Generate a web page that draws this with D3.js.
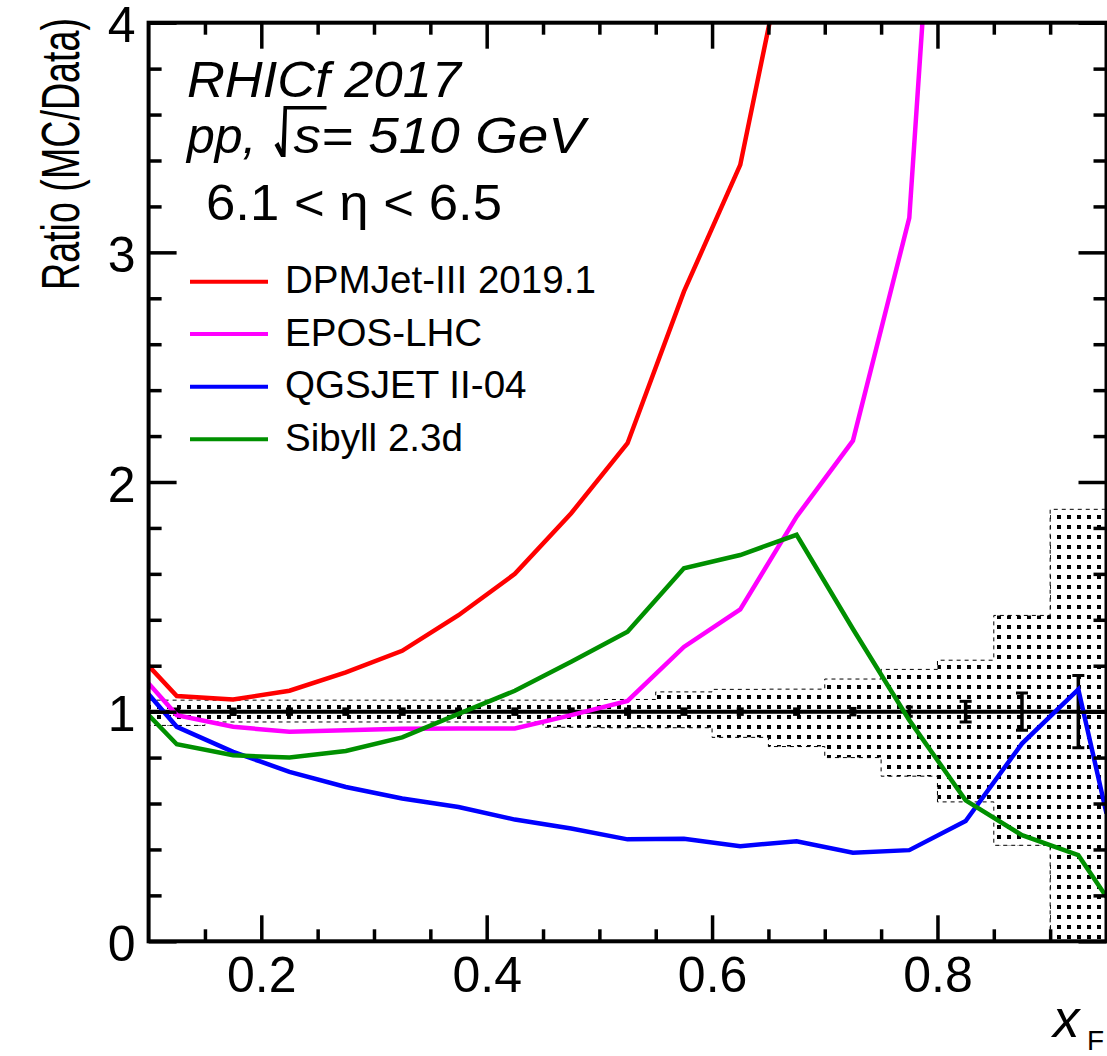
<!DOCTYPE html>
<html>
<head>
<meta charset="utf-8">
<script src="https://cdn.jsdelivr.net/npm/d3@7"></script>
<style>
  body { margin: 0; background: #fff; }
  svg { display: block; }
  text { font-family: "Liberation Sans", Arial, Helvetica, sans-serif; fill: #000; }
</style>
</head>
<body>
<div id="chart"></div>
<script>
// x_F points where the model ratios are drawn (edges 0.1 / 0.95 plus bin centres)
const xfPoints = [0.1, 0.125, 0.175, 0.225, 0.275, 0.325, 0.375, 0.425, 0.475, 0.525,
                  0.575, 0.625, 0.675, 0.725, 0.775, 0.825, 0.875, 0.925, 0.95];

// MC / Data ratios (red and magenta leave the frame, later points are off-scale)
const dpmjet = [1.20, 1.068, 1.053, 1.091, 1.171, 1.265, 1.42, 1.60, 1.864, 2.169, 2.829, 3.381, 4.57];
const epos   = [1.123, 0.985, 0.934, 0.912, 0.919, 0.925, 0.927, 0.927, 0.985, 1.047, 1.282, 1.445,
                1.849, 2.18, 3.15, 6.8];
const qgsjet = [1.076, 0.934, 0.825, 0.738, 0.672, 0.622, 0.585, 0.53, 0.491, 0.444, 0.447, 0.414,
                0.436, 0.386, 0.397, 0.524, 0.861, 1.097, 0.556];
const sibyll = [0.985, 0.858, 0.81, 0.80, 0.829, 0.888, 0.99, 1.091, 1.217, 1.348, 1.624, 1.682,
                1.77, 1.36, 0.963, 0.614, 0.462, 0.375, 0.193];

// data bins: edges, statistical errors (at ratio 1), systematic band
const binEdges = [0.1, 0.15, 0.2, 0.25, 0.3, 0.35, 0.4, 0.45, 0.5, 0.55, 0.6, 0.65, 0.7, 0.75,
                  0.8, 0.85, 0.9, 0.95];
const dataCentres = [0.125, 0.175, 0.225, 0.275, 0.325, 0.375, 0.425, 0.475, 0.525, 0.575,
                     0.625, 0.675, 0.725, 0.775, 0.825, 0.875, 0.925];
const statErr = [0.012, 0.012, 0.012, 0.012, 0.012, 0.012, 0.012, 0.012, 0.012, 0.012,
                 0.012, 0.012, 0.014, 0.02, 0.045, 0.081, 0.157];
const bandLow  = [0.94, 0.955, 0.955, 0.955, 0.955, 0.955, 0.955, 0.932, 0.93, 0.93, 0.888,
                  0.848, 0.80, 0.719, 0.607, 0.418, 0.0];
const bandHigh = [1.05, 1.05, 1.05, 1.05, 1.05, 1.05, 1.05, 1.05, 1.053, 1.086, 1.097,
                  1.098, 1.142, 1.184, 1.224, 1.419, 1.881];

const series = [
  { name: 'DPMJet-III 2019.1', color: '#ff0000', values: dpmjet },
  { name: 'EPOS-LHC',          color: '#ff00ff', values: epos },
  { name: 'QGSJET II-04',      color: '#0000ff', values: qgsjet },
  { name: 'Sibyll 2.3d',       color: '#009000', values: sibyll }
];

const xMajor = [0.2, 0.4, 0.6, 0.8];
const xMinor = [0.15, 0.25, 0.3, 0.35, 0.45, 0.5, 0.55, 0.65, 0.7, 0.75, 0.85, 0.9];
const yMajor = [0, 1, 2, 3, 4];

const W = 1107, H = 1056;
const frame = { left: 148.6, right: 1106.5, top: 22.7, bottom: 941.3 };

const x = d3.scaleLinear().domain([0.1, 0.95]).range([frame.left, frame.right]);
const y = d3.scaleLinear().domain([0, 4]).range([frame.bottom, frame.top]);

const svg = d3.select('#chart').append('svg')
    .attr('width', W)
    .attr('height', H);

const defs = svg.append('defs');
defs.append('clipPath').attr('id', 'plotclip')
  .append('rect')
    .attr('x', frame.left).attr('y', frame.top)
    .attr('width', frame.right - frame.left)
    .attr('height', frame.bottom - frame.top);

// ROOT-like dotted fill
defs.append('pattern')
    .attr('id', 'dots')
    .attr('patternUnits', 'userSpaceOnUse')
    .attr('width', 10).attr('height', 10)
    .attr('x', 7).attr('y', 5)
  .append('rect')
    .attr('width', 4).attr('height', 4)
    .attr('fill', '#000')
    .attr('shape-rendering', 'crispEdges');

const plot = svg.append('g').attr('clip-path', 'url(#plotclip)');

// systematic band
const bandPts = bandLow.map((lo, i) => ({ x: binEdges[i], lo: lo, hi: bandHigh[i] }));
bandPts.push({ x: binEdges[binEdges.length - 1], lo: bandLow[bandLow.length - 1], hi: bandHigh[bandHigh.length - 1] });
plot.append('path')
    .datum(bandPts)
    .attr('d', d3.area()
        .x(d => x(d.x))
        .y0(d => y(d.lo))
        .y1(d => y(d.hi))
        .curve(d3.curveStepAfter))
    .attr('fill', 'url(#dots)')
    .attr('stroke', '#000')
    .attr('stroke-width', 1)
    .attr('stroke-dasharray', '4,4');

// data = 1 line
plot.append('line')
    .attr('x1', x(0.1)).attr('x2', x(0.95))
    .attr('y1', y(1)).attr('y2', y(1))
    .attr('stroke', '#000')
    .attr('stroke-width', 4);

// statistical error bars
const bars = plot.append('g').selectAll('g')
    .data(dataCentres)
    .enter().append('g');
bars.append('line')
    .attr('x1', d => x(d)).attr('x2', d => x(d))
    .attr('y1', (d, i) => y(1 - statErr[i]))
    .attr('y2', (d, i) => y(1 + statErr[i]))
    .attr('stroke', '#000').attr('stroke-width', 3.5);
[-1, 1].forEach(s => {
  bars.append('line')
      .attr('x1', (d, i) => x(d) - (statErr[i] > 0.03 ? 6 : 3.5))
      .attr('x2', (d, i) => x(d) + (statErr[i] > 0.03 ? 6 : 3.5))
      .attr('y1', (d, i) => y(1 + s * statErr[i]))
      .attr('y2', (d, i) => y(1 + s * statErr[i]))
      .attr('stroke', '#000').attr('stroke-width', 3);
});

// model curves
const line = d3.line()
    .x((d, i) => x(xfPoints[i]))
    .y(d => y(d));

plot.selectAll('.model')
    .data(series)
    .enter().append('path')
    .attr('class', 'model')
    .attr('d', d => line(d.values))
    .attr('fill', 'none')
    .attr('stroke', d => d.color)
    .attr('stroke-width', 4.5);

// axes (ticks inside on all four sides)
function styleAxis(g) {
  g.select('.domain').remove();
  g.selectAll('.tick line').attr('stroke', '#000').attr('stroke-width', 3.5);
  g.selectAll('.tick text').style('font-size', '50px').attr('fill', '#000');
}

svg.append('g')
    .attr('transform', `translate(0,${frame.bottom})`)
    .call(d3.axisBottom(x).tickValues(xMajor).tickSize(-26).tickPadding(15).tickFormat(d3.format('.1f')))
    .call(styleAxis);
svg.append('g')
    .attr('transform', `translate(0,${frame.bottom})`)
    .call(d3.axisBottom(x).tickValues(xMinor).tickSize(-12).tickFormat(''))
    .call(styleAxis);
svg.append('g')
    .attr('transform', `translate(0,${frame.top})`)
    .call(d3.axisTop(x).tickValues(xMajor).tickSize(-26).tickFormat(''))
    .call(styleAxis);
svg.append('g')
    .attr('transform', `translate(0,${frame.top})`)
    .call(d3.axisTop(x).tickValues(xMinor).tickSize(-12).tickFormat(''))
    .call(styleAxis);

const yMinor = d3.range(0.2, 4, 0.2).filter(v => Math.abs(v - Math.round(v)) > 1e-6);

svg.append('g')
    .attr('transform', `translate(${frame.left},0)`)
    .call(d3.axisLeft(y).tickValues(yMajor).tickSize(-28).tickPadding(13).tickFormat(d3.format('d')))
    .call(styleAxis)
    .call(g => g.selectAll('.tick text').attr('dy', '0.38em'));
svg.append('g')
    .attr('transform', `translate(${frame.left},0)`)
    .call(d3.axisLeft(y).tickValues(yMinor).tickSize(-13).tickFormat(''))
    .call(styleAxis);
svg.append('g')
    .attr('transform', `translate(${frame.right},0)`)
    .call(d3.axisRight(y).tickValues(yMajor).tickSize(-28).tickFormat(''))
    .call(styleAxis);
svg.append('g')
    .attr('transform', `translate(${frame.right},0)`)
    .call(d3.axisRight(y).tickValues(yMinor).tickSize(-13).tickFormat(''))
    .call(styleAxis);

// frame
svg.append('rect')
    .attr('x', frame.left).attr('y', frame.top)
    .attr('width', frame.right - frame.left)
    .attr('height', frame.bottom - frame.top)
    .attr('fill', 'none')
    .attr('stroke', '#000')
    .attr('stroke-width', 4);

// axis titles
svg.append('text')
    .attr('transform', 'translate(79,290) rotate(-90)')
    .attr('textLength', 272)
    .attr('lengthAdjust', 'spacingAndGlyphs')
    .style('font-size', '54px')
    .text('Ratio (MC/Data)');

svg.append('text')
    .attr('x', 1053).attr('y', 1037)
    .style('font-size', '53px')
    .style('font-style', 'italic')
    .text('x');
svg.append('text')
    .attr('x', 1087).attr('y', 1050)
    .style('font-size', '28px')
    .text('F');

// annotations
svg.append('text')
    .attr('x', 187).attr('y', 97)
    .attr('textLength', 274)
    .attr('lengthAdjust', 'spacingAndGlyphs')
    .style('font-size', '50px')
    .style('font-style', 'italic')
    .text('RHICf 2017');

const ppText = svg.append('text')
    .attr('x', 187).attr('y', 153)
    .style('font-size', '50px')
    .style('font-style', 'italic')
    .text('pp,');
const r = 187 + ppText.node().getComputedTextLength() + 18;
svg.append('path')
    .attr('d', `M${r},145 L${r + 4},142 L${r + 7},149 L${r + 9},106 L${r + 52},106 L${r + 52},109.5 ` +
               `L${r + 12.5},109.5 L${r + 11},157 L${r + 6.5},157 Z`)
    .attr('fill', '#000');
svg.append('text')
    .attr('x', r + 19).attr('y', 153)
    .attr('textLength', 585 - (r + 19))
    .attr('lengthAdjust', 'spacingAndGlyphs')
    .style('font-size', '50px')
    .style('font-style', 'italic')
    .text('s= 510 GeV');

svg.append('text')
    .attr('x', 206).attr('y', 220)
    .attr('textLength', 296)
    .attr('lengthAdjust', 'spacingAndGlyphs')
    .style('font-size', '50px')
    .text('6.1 < η < 6.5');

// legend
const legend = svg.append('g');
const legendY = [281.7, 334, 386.7, 439.3];
series.forEach((s, i) => {
  legend.append('line')
      .attr('x1', 190).attr('x2', 268)
      .attr('y1', legendY[i]).attr('y2', legendY[i])
      .attr('stroke', s.color)
      .attr('stroke-width', 4);
  legend.append('text')
      .attr('x', 285).attr('y', legendY[i] + 11.7)
      .style('font-size', '38.6px')
      .text(s.name);
});
</script>
</body>
</html>
